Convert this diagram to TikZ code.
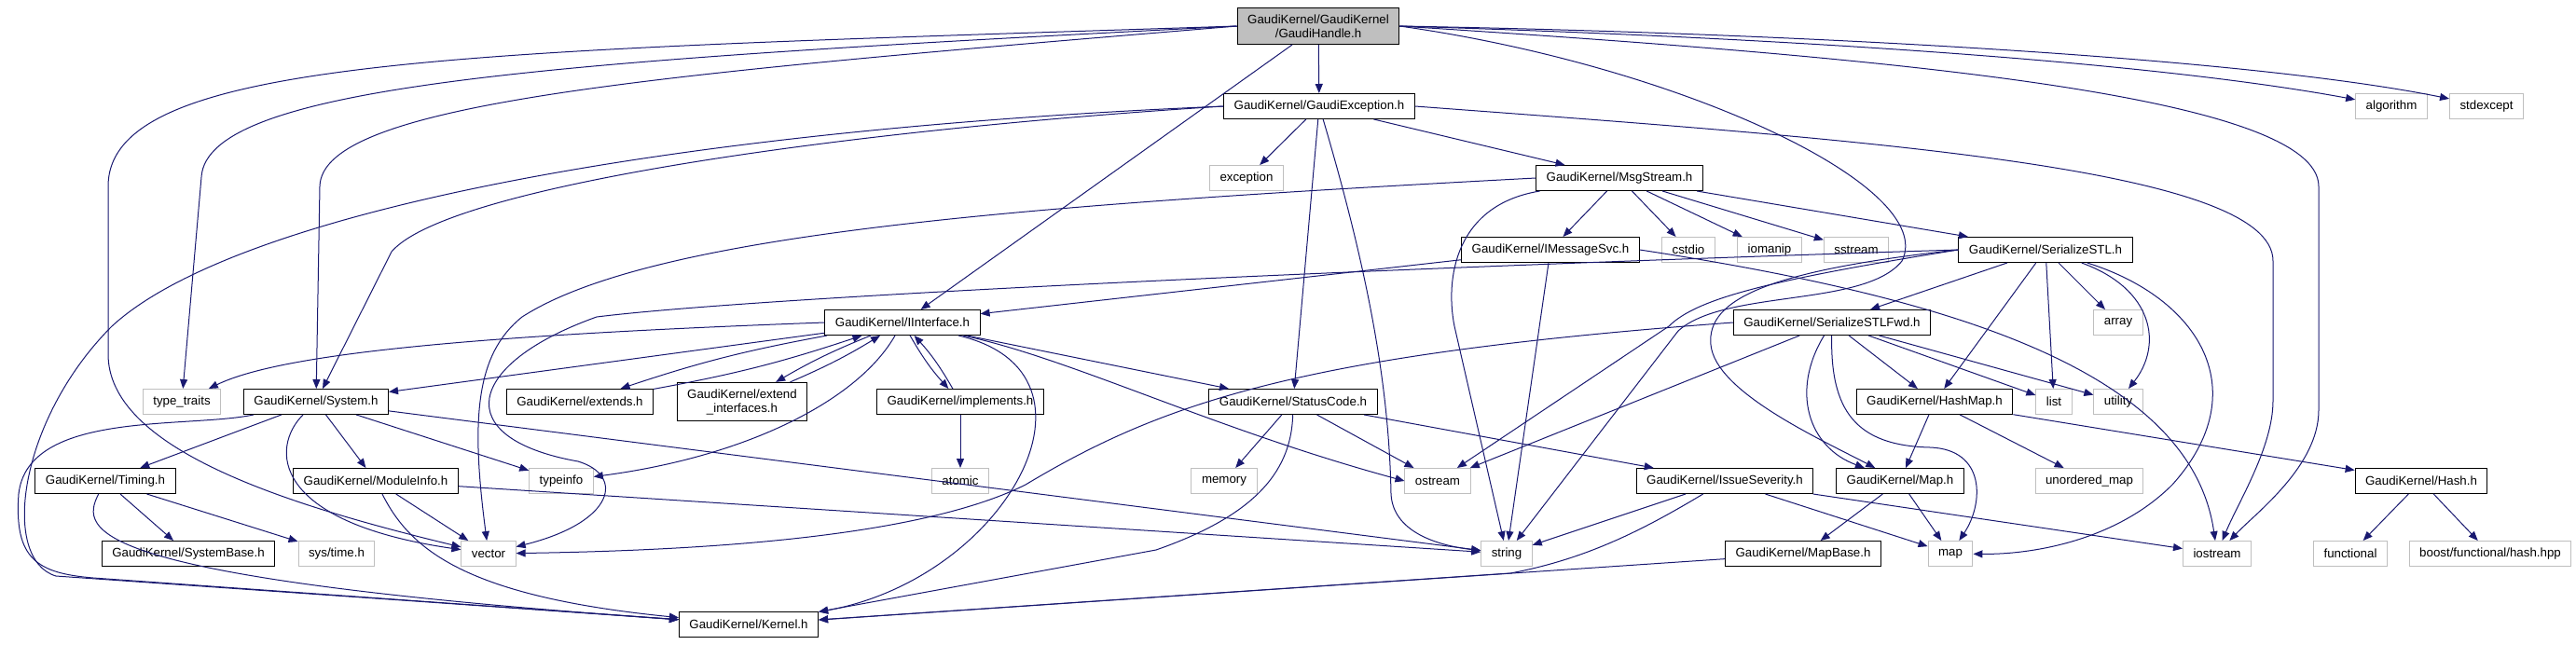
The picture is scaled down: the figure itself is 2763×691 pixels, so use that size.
\documentclass[tikz,border=0pt]{standalone}
\usepackage{fontspec}
\setmainfont{Liberation Sans}
\usepackage{xcolor}
\usetikzlibrary{arrows.meta}
\definecolor{edgeblue}{HTML}{191970}
\definecolor{boxgray}{HTML}{BFBFBF}
\tikzset{> = {Triangle[length=10pt,width=8pt]},
  box/.style={rectangle, minimum height=27pt, inner xsep=11pt, inner ysep=7pt,
    line width=1pt, fill=white, align=center, font=\fontsize{13.3}{15}\selectfont},
  hdr/.style={box, draw=black},
  stdh/.style={box, draw=boxgray},
  root/.style={box, draw=black, fill=boxgray},
  edge/.style={->, draw=edgeblue, line width=1pt}}

\begin{document}
\begin{tikzpicture}[x=1pt,y=-1pt]
	\useasboundingbox (0,0) rectangle (2763,691);
	\node[root] (gh) at (1414,28) {GaudiKernel/GaudiKernel\\/GaudiHandle.h};
	\node[hdr] (gexc) at (1415,114) {GaudiKernel/GaudiException.h};
	\node[stdh] (alg) at (2565,114) {algorithm};
	\node[stdh] (stde) at (2667,114) {stdexcept};
	\node[stdh] (excp) at (1337,191) {exception};
	\node[hdr] (msg) at (1737,191) {GaudiKernel/MsgStream.h};
	\node[hdr] (imsg) at (1663,268) {GaudiKernel/IMessageSvc.h};
	\node[stdh] (cstd) at (1811,268) {cstdio};
	\node[stdh] (ioma) at (1898,268) {iomanip};
	\node[stdh] (sstr) at (1991,268) {sstream};
	\node[hdr] (sstl) at (2194,268) {GaudiKernel/SerializeSTL.h};
	\node[hdr] (iif) at (968,346) {GaudiKernel/IInterface.h};
	\node[hdr] (sfwd) at (1965,346) {GaudiKernel/SerializeSTLFwd.h};
	\node[stdh] (arr) at (2272,346) {array};
	\node[stdh] (ttr) at (195,431) {type\_traits};
	\node[hdr] (sys) at (339,431) {GaudiKernel/System.h};
	\node[hdr] (ext) at (622,431) {GaudiKernel/extends.h};
	\node[hdr] (extif) at (796,431) {GaudiKernel/extend\\\_interfaces.h};
	\node[hdr] (impl) at (1030,431) {GaudiKernel/implements.h};
	\node[hdr] (stc) at (1387,431) {GaudiKernel/StatusCode.h};
	\node[hdr] (hmap) at (2075,431) {GaudiKernel/HashMap.h};
	\node[stdh] (list) at (2203,431) {list};
	\node[stdh] (util) at (2272,431) {utility};
	\node[hdr] (tim) at (113,516) {GaudiKernel/Timing.h};
	\node[hdr] (modi) at (403,516) {GaudiKernel/ModuleInfo.h};
	\node[stdh] (tinfo) at (602,516) {typeinfo};
	\node[stdh] (atom) at (1030,516) {atomic};
	\node[stdh] (mem) at (1313,516) {memory};
	\node[stdh] (ost) at (1542,516) {ostream};
	\node[hdr] (iss) at (1850,516) {GaudiKernel/IssueSeverity.h};
	\node[hdr] (mapg) at (2038,516) {GaudiKernel/Map.h};
	\node[stdh] (umap) at (2241,516) {unordered\_map};
	\node[hdr] (hash) at (2597,516) {GaudiKernel/Hash.h};
	\node[hdr] (sysb) at (202,594) {GaudiKernel/SystemBase.h};
	\node[stdh] (stime) at (361,594) {sys/time.h};
	\node[stdh] (vec) at (524,594) {vector};
	\node[stdh] (str) at (1616,594) {string};
	\node[hdr] (mapb) at (1934,594) {GaudiKernel/MapBase.h};
	\node[stdh] (map) at (2092,594) {map};
	\node[stdh] (ios) at (2378,594) {iostream};
	\node[stdh] (func) at (2521,594) {functional};
	\node[stdh] (boost) at (2671,594) {boost/functional/hash.hpp};
	\node[hdr] (kern) at (803,670) {GaudiKernel/Kernel.h};
	% GaudiHandle.h
	\draw[edge] (gh) -- (gexc);
	\draw[edge] (gh) -- (iif);
	\draw[edge] (gh.west) .. controls (500,55) and (116,60) .. (116,200) -- (116,380) .. controls (116,480) and (300,540) .. (vec);
	\draw[edge] (gh.west) .. controls (600,65) and (222,90) .. (216,190) -- (ttr);
	\draw[edge] (gh.west) .. controls (700,80) and (345,110) .. (343,200) -- (sys);
	\draw[edge] (gh.east) .. controls (1900,40) and (2300,65) .. (alg);
	\draw[edge] (gh.east) .. controls (1900,35) and (2400,60) .. (stde);
	\draw[edge] (gh.east) .. controls (2000,60) and (2487,100) .. (2487,200) -- (2487,440) .. controls (2487,500) and (2420,550) .. (ios);
	\draw[edge] (gh.east) .. controls (1800,70) and (2080,200) .. (2040,280) .. controls (2000,330) and (1850,310) .. (1800,355) -- (str);
	% GaudiException.h
	\draw[edge] (gexc) -- (excp);
	\draw[edge] (gexc) -- (msg);
	\draw[edge] (gexc) -- (stc);
	\draw[edge] (gexc) .. controls (1470,300) and (1490,420) .. (1492,530) .. controls (1494,570) and (1540,585) .. (str);
	\draw[edge] (gexc.east) .. controls (2000,150) and (2438,180) .. (2438,280) -- (2438,430) .. controls (2438,480) and (2400,540) .. (ios);
	\draw[edge] (gexc.west) .. controls (900,140) and (480,200) .. (420,270) -- (sys);
	\draw[edge] (gexc.west) .. controls (700,140) and (250,230) .. (120,350) .. controls (20,450) and (0,600) .. (60,618) -- (kern);
	% IInterface.h
	\draw[edge] (iif.west) .. controls (500,360) and (300,380) .. (ttr);
	\draw[edge] (iif) -- (sys);
	\draw[edge] (iif) to[bend right=4] (ext);
	\draw[edge] (ext) to[bend right=4] (iif);
	\draw[edge] (iif) to[bend right=4] (extif);
	\draw[edge] (extif) to[bend right=4] (iif);
	\draw[edge] (iif) to[bend right=6] (impl);
	\draw[edge] (impl) to[bend right=6] (iif);
	\draw[edge] (impl) -- (atom);
	\draw[edge] (iif) -- (stc);
	\draw[edge] (iif) .. controls (1150,385) and (1300,460) .. (ost.west);
	\draw[edge] (iif) .. controls (1200,400) and (1080,620) .. (kern);
	\draw[edge] (iif) .. controls (920,430) and (800,490) .. (tinfo);
	% System.h
	\draw[edge] (sys) .. controls (200,460) and (30,440) .. (20,530) .. controls (15,600) and (40,615) .. (100,620) -- (kern);
	\draw[edge] (sys) -- (tim);
	\draw[edge] (sys) .. controls (290,480) and (290,560) .. (vec);
	\draw[edge] (sys) -- (modi);
	\draw[edge] (sys) -- (tinfo);
	\draw[edge] (sys) -- (str);
	\draw[edge] (tim) -- (sysb);
	\draw[edge] (tim) -- (stime);
	\draw[edge] (tim) .. controls (85,570) and (90,620) .. (kern);
	\draw[edge] (modi) -- (vec);
	\draw[edge] (modi) -- (str);
	\draw[edge] (modi) .. controls (440,590) and (500,640) .. (kern);
	% MsgStream.h
	\draw[edge] (msg) -- (imsg);
	\draw[edge] (msg) -- (cstd);
	\draw[edge] (msg) -- (ioma);
	\draw[edge] (msg) -- (sstr);
	\draw[edge] (msg) -- (sstl);
	\draw[edge] (msg) .. controls (1560,220) and (1550,300) .. (1560,350) -- (str);
	\draw[edge] (msg.west) .. controls (1100,220) and (700,250) .. (560,340) .. controls (510,380) and (505,450) .. (vec);
	\draw[edge] (imsg) -- (iif);
	\draw[edge] (imsg) -- (str);
	\draw[edge] (imsg.east) .. controls (2100,320) and (2350,400) .. (ios);
	% StatusCode.h
	\draw[edge] (stc) -- (mem);
	\draw[edge] (stc) -- (ost);
	\draw[edge] (stc) -- (iss);
	\draw[edge] (stc) .. controls (1385,510) and (1340,555) .. (1240,590) -- (kern);
	\draw[edge] (iss) -- (str);
	\draw[edge] (iss) .. controls (1760,570) and (1700,600) .. (1620,615) -- (kern);
	\draw[edge] (iss) -- (map);
	\draw[edge] (iss) -- (ios);
	\draw[edge] (mapb) -- (kern);
	% SerializeSTLFwd.h
	\draw[edge] (sfwd.west) .. controls (1400,380) and (1250,430) .. (1100,520) .. controls (1000,570) and (800,590) .. (vec);
	\draw[edge] (sfwd) -- (ost);
	\draw[edge] (sfwd) -- (hmap);
	\draw[edge] (sfwd) -- (list);
	\draw[edge] (sfwd) -- (util);
	\draw[edge] (sfwd) .. controls (1920,420) and (1940,480) .. (mapg);
	\draw[edge] (sfwd) .. controls (1963,440) and (1990,478) .. (2070,480) .. controls (2130,482) and (2128,540) .. (map);
	% SerializeSTL.h
	\draw[edge] (sstl) -- (sfwd);
	\draw[edge] (sstl) -- (hmap);
	\draw[edge] (sstl) -- (list);
	\draw[edge] (sstl) -- (arr);
	\draw[edge] (sstl) .. controls (2310,310) and (2320,370) .. (util);
	\draw[edge] (sstl) .. controls (2360,320) and (2420,420) .. (2330,520) .. controls (2270,580) and (2180,595) .. (map);
	\draw[edge] (sstl.west) .. controls (1400,290) and (800,320) .. (640,340) .. controls (500,390) and (480,470) .. (620,495) .. controls (670,510) and (660,560) .. (vec);
	\draw[edge] (sstl.west) .. controls (1900,300) and (1820,320) .. (1790,350) -- (ost);
	\draw[edge] (sstl.west) .. controls (1900,290) and (1830,320) .. (1835,370) .. controls (1840,420) and (1950,470) .. (mapg);
	% HashMap.h, Map.h, Hash.h
	\draw[edge] (hmap) -- (mapg);
	\draw[edge] (hmap) -- (umap);
	\draw[edge] (hmap) -- (hash);
	\draw[edge] (mapg) -- (map);
	\draw[edge] (mapg) -- (mapb);
	\draw[edge] (hash) -- (func);
	\draw[edge] (hash) -- (boost);
\end{tikzpicture}
\end{document}
